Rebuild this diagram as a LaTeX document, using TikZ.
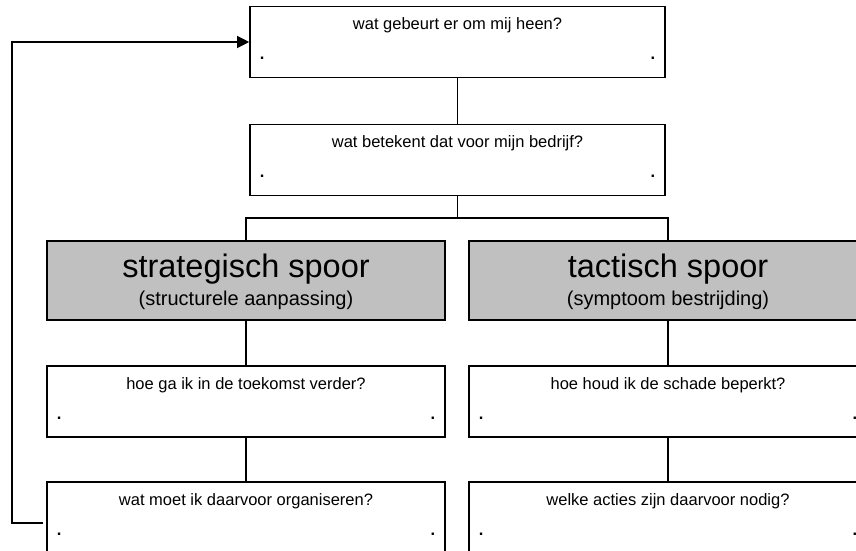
\documentclass[tikz,border=0pt]{standalone}
\usepackage{fontspec}
\setmainfont{Liberation Sans}
\usetikzlibrary{arrows.meta}
\definecolor{trackgray}{HTML}{C0C0C0}
\tikzset{
  qbox/.style={rectangle, draw, line width=1.6pt, fill=white, inner sep=0pt,
    minimum width=415pt, minimum height=71pt},
  trackq/.style={qbox, minimum width=398pt},
  spoorbox/.style={rectangle, draw, line width=1.6pt, fill=trackgray, inner sep=0pt,
    minimum width=398pt, minimum height=79pt},
  link/.style={line width=1.2pt},
  qtext/.style={anchor=base, inner sep=0pt, font=\fontsize{16.5}{19}\selectfont},
  dottext/.style={anchor=base, inner sep=0pt, font=\fontsize{16.5}{19}\selectfont\bfseries},
  bigtext/.style={anchor=base, inner sep=0pt, font=\fontsize{32.5}{36}\selectfont},
  subtext/.style={anchor=base, inner sep=0pt, font=\fontsize{20}{24}\selectfont},
}
% question on top, a dot in each lower corner
\newcommand\boxtexts[2]{%
  \node[qtext] (#1-q) at ([yshift=-24pt]#1.north) {#2};
  \node[dottext] (#1-l) at ([xshift=13pt,yshift=-54pt]#1.north west) {.};
  \node[dottext] (#1-r) at ([xshift=-13pt,yshift=-54pt]#1.north east) {.};}
\begin{document}
\begin{tikzpicture}[x=1pt,y=-1pt]
  \clip (0,0) rectangle (856,551);

  % boxes
  \node[qbox] (top) at (457.5,42) {};
  \node[qbox] (mid) at (457.5,160) {};
  \node[spoorbox] (sL) at (246,280.5) {};
  \node[spoorbox] (sR) at (668,280.5) {};
  \node[trackq] (l1) at (246,401.5) {};
  \node[trackq] (r1) at (668,401.5) {};
  \node[trackq] (l2) at (246,517.5) {};
  \node[trackq] (r2) at (668,517.5) {};

  % texts
  \boxtexts{top}{wat gebeurt er om mij heen?}
  \boxtexts{mid}{wat betekent dat voor mijn bedrijf?}
  \boxtexts{l1}{hoe ga ik in de toekomst verder?}
  \boxtexts{r1}{hoe houd ik de schade beperkt?}
  \boxtexts{l2}{wat moet ik daarvoor organiseren?}
  \boxtexts{r2}{welke acties zijn daarvoor nodig?}

  \node[bigtext] (sL-t) at ([yshift=-37pt]sL.north) {strategisch spoor};
  \node[subtext] (sL-s) at ([yshift=-65pt]sL.north) {(structurele aanpassing)};
  \node[bigtext] (sR-t) at ([yshift=-37pt]sR.north) {tactisch spoor};
  \node[subtext] (sR-s) at ([yshift=-65pt]sR.north) {(symptoom bestrijding)};

  % connectors
  \draw[link] (top.south) -- (mid.north);
  \draw[link] (mid.south) -- (mid.south |- 0,218);
  \draw[link] (sL.north) -- (sL.north |- 0,218) -- (sR.north |- 0,218) -- (sR.north);
  \draw[link] (sL.south) -- (l1.north);
  \draw[link] (l1.south) -- (l2.north);
  \draw[link] (sR.south) -- (r1.north);
  \draw[link] (r1.south) -- (r2.north);

  % feedback loop back to the top
  \coordinate (loopstart) at (43,523);
  \draw[link, -{Triangle[length=12pt,width=12pt]}]
    (loopstart) -- (12,523) |- (top.west);
\end{tikzpicture}
\end{document}
